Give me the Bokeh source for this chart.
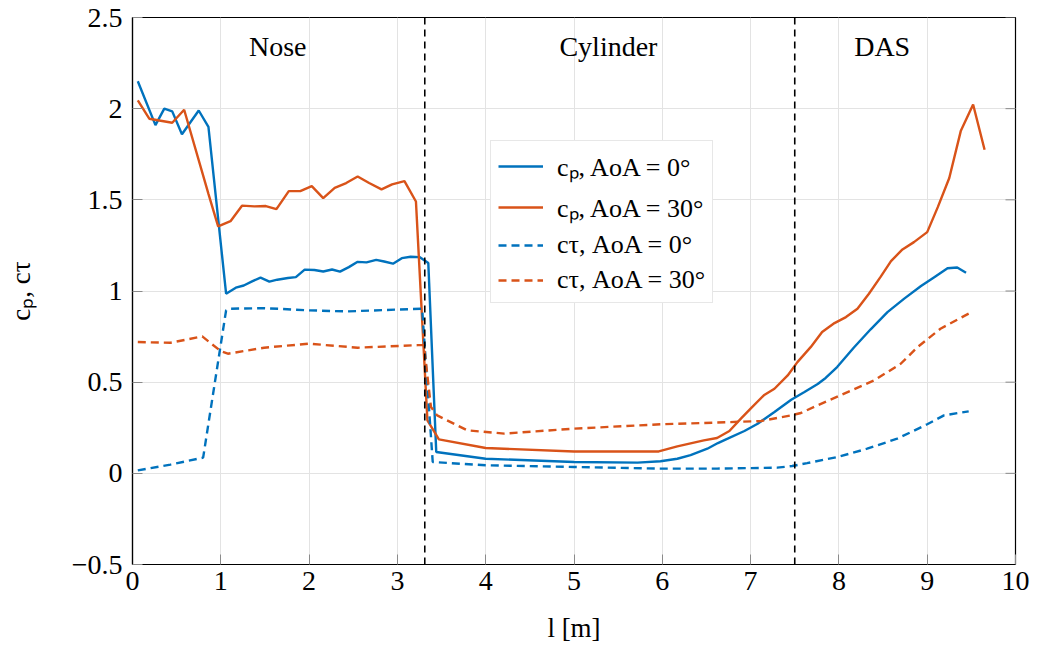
import math
from bokeh.plotting import figure
from bokeh.models import (Range1d, Legend, LegendItem, Span,
                          FixedTicker, ColumnDataSource)
from bokeh.core.properties import value
from bokeh.embed import file_html
from bokeh.resources import INLINE

# ---------------- data ----------------
cp0_x = [0.06, 0.26, 0.36, 0.45, 0.56, 0.75, 0.86, 1.06, 1.17, 1.26, 1.36, 1.45, 1.55, 1.64,
         1.76, 1.85, 1.95, 2.06, 2.16, 2.26, 2.35, 2.45, 2.55, 2.65, 2.76, 2.85, 2.95, 3.05,
         3.15, 3.25, 3.35, 3.44, 4.0, 5.0, 5.72, 5.98, 6.17, 6.32, 6.51, 6.63, 6.74, 6.93,
         7.08, 7.27, 7.46, 7.61, 7.76, 7.85, 7.98, 8.17, 8.36, 8.55, 8.74, 8.93, 9.08, 9.23,
         9.34, 9.44]
cp0_y = [2.15, 1.91, 2.00, 1.985, 1.86, 1.99, 1.90, 0.985, 1.018, 1.03, 1.054, 1.073, 1.051,
         1.062, 1.071, 1.076, 1.117, 1.115, 1.107, 1.118, 1.106, 1.131, 1.16, 1.157, 1.171,
         1.162, 1.15, 1.18, 1.188, 1.186, 1.153, 0.117, 0.08, 0.062, 0.059, 0.066, 0.08, 0.10,
         0.135, 0.166, 0.19, 0.232, 0.272, 0.336, 0.404, 0.446, 0.49, 0.523, 0.583, 0.69,
         0.79, 0.884, 0.958, 1.027, 1.076, 1.125, 1.129, 1.10]

cp30_x = [0.06, 0.19, 0.45, 0.585, 0.86, 0.97, 1.11, 1.24, 1.38, 1.51, 1.63, 1.77, 1.90, 2.03,
          2.16, 2.29, 2.42, 2.55, 2.68, 2.82, 2.94, 3.08, 3.21, 3.34, 3.47, 4.0, 5.0, 5.96,
          6.17, 6.47, 6.62, 6.76, 6.89, 7.0, 7.15, 7.27, 7.42, 7.53, 7.68, 7.81, 7.95, 8.08,
          8.21, 8.34, 8.47, 8.59, 8.72, 8.85, 9.0, 9.12, 9.25, 9.38, 9.52, 9.65]
cp30_y = [2.045, 1.945, 1.923, 1.994, 1.533, 1.354, 1.383, 1.468, 1.464, 1.466, 1.449, 1.548,
          1.548, 1.575, 1.509, 1.566, 1.592, 1.628, 1.592, 1.557, 1.585, 1.603, 1.491, 0.29,
          0.186, 0.139, 0.12, 0.12, 0.148, 0.181, 0.194, 0.232, 0.30, 0.355, 0.428, 0.464,
          0.537, 0.61, 0.692, 0.775, 0.824, 0.857, 0.903, 0.985, 1.076, 1.164, 1.228, 1.268,
          1.323, 1.46, 1.62, 1.877, 2.023, 1.775]

ct0_x = [0.06, 0.43, 0.80, 1.06, 1.11, 1.49, 2.0, 2.43, 3.28, 3.40, 4.0, 5.0, 5.98, 6.62,
         7.3, 7.47, 7.64, 7.98, 8.32, 8.66, 9.0, 9.19, 9.47]
ct0_y = [0.016, 0.048, 0.086, 0.894, 0.903, 0.906, 0.894, 0.888, 0.903, 0.062, 0.044, 0.035,
         0.026, 0.026, 0.031, 0.04, 0.056, 0.089, 0.135, 0.19, 0.269, 0.318, 0.34]

ct30_x = [0.06, 0.43, 0.79, 1.0, 1.08, 1.49, 2.0, 2.55, 3.23, 3.30, 3.38, 3.45, 3.79, 4.21,
          5.0, 5.98, 6.59, 7.12, 7.46, 7.57, 7.76, 8.06, 8.4, 8.7, 8.89, 9.15, 9.47]
ct30_y = [0.72, 0.716, 0.751, 0.67, 0.656, 0.689, 0.711, 0.689, 0.703, 0.703, 0.364, 0.318,
          0.236, 0.218, 0.245, 0.269, 0.278, 0.287, 0.318, 0.331, 0.373, 0.437, 0.51, 0.601,
          0.692, 0.793, 0.876]

section_bounds = [3.31, 7.5]
section_names = ["Nose", "Cylinder", "DAS"]
section_x = [1.645, 5.39, 8.49]
section_y = [2.34, 2.34, 2.34]

series_labels = ["c\u209a, AoA = 0\u00b0", "c\u209a, AoA = 30\u00b0",
                 "c\u03c4, AoA = 0\u00b0", "c\u03c4, AoA = 30\u00b0"]

x_min, x_max = 0, 10
y_min, y_max = -0.5, 2.5
x_ticks = [0, 1, 2, 3, 4, 5, 6, 7, 8, 9, 10]
x_tick_labels = ["0", "1", "2", "3", "4", "5", "6", "7", "8", "9", "10"]
y_ticks = [-0.5, 0, 0.5, 1, 1.5, 2, 2.5]
y_tick_labels = ["\u22120.5", "0", "0.5", "1", "1.5", "2", "2.5"]

# ---------------- style ----------------
BLUE = "#0072BD"
ORANGE = "#D95319"
FONT = "Liberation Serif"
TICK_COLOR = "#8a8a8a"

p = figure(width=1038, height=651, output_backend="svg", toolbar_location=None,
           x_range=Range1d(x_min, x_max), y_range=Range1d(y_min, y_max),
           min_border_left=132, min_border_right=23, min_border_top=17,
           min_border_bottom=87)

p.outline_line_color = "black"
p.outline_line_width = 1.2
p.background_fill_color = "white"
p.border_fill_color = "white"

for g in (p.xgrid[0], p.ygrid[0]):
    g.grid_line_color = "#e3e3e3"
    g.grid_line_width = 1
p.xgrid[0].ticker = FixedTicker(ticks=x_ticks)
p.ygrid[0].ticker = FixedTicker(ticks=y_ticks)

xa = p.xaxis[0]
xa.ticker = FixedTicker(ticks=x_ticks)
xa.major_label_overrides = {t: l for t, l in zip(x_ticks, x_tick_labels)}
ya = p.yaxis[0]
ya.ticker = FixedTicker(ticks=y_ticks)
ya.major_label_overrides = {t: l for t, l in zip(y_ticks, y_tick_labels)}

for ax in (xa, ya):
    ax.axis_line_color = "black"
    ax.axis_line_width = 1.2
    ax.major_tick_in = 10
    ax.major_tick_out = 0
    ax.major_tick_line_color = TICK_COLOR
    ax.minor_tick_line_color = None
    ax.major_label_text_font = FONT
    ax.major_label_text_font_size = "28px"
    ax.major_label_text_color = "black"
    ax.axis_label_text_font = FONT
    ax.axis_label_text_font_size = "27px"
    ax.axis_label_text_font_style = "normal"
    ax.axis_label_text_color = "black"

xa.major_label_standoff = 7
xa.axis_label = "l [m]"
xa.axis_label_standoff = 20
ya.major_label_standoff = 10
ya.axis_label = "c\u209a, c\u03c4"
ya.axis_label_standoff = 33

# inward ticks on the right edge of the frame
p.ray(x=[x_max] * len(y_ticks), y=y_ticks, length=10, length_units="screen",
      angle=math.pi, line_color=TICK_COLOR, line_width=1)

# section boundaries
for b in section_bounds:
    p.add_layout(Span(location=b, dimension="height", line_color="black",
                      line_width=1.6, line_dash="7 5"))

# series
LW = 2.4
r1 = p.line(cp0_x, cp0_y, line_color=BLUE, line_width=LW)
r2 = p.line(cp30_x, cp30_y, line_color=ORANGE, line_width=LW)
r3 = p.line(ct0_x, ct0_y, line_color=BLUE, line_width=LW, line_dash="8 5")
r4 = p.line(ct30_x, ct30_y, line_color=ORANGE, line_width=LW, line_dash="8 5")

# section labels
src = ColumnDataSource(dict(x=section_x, y=section_y, t=section_names))
p.text(x="x", y="y", text="t", source=src, text_font=value(FONT),
       text_font_size="28px", text_align="center", text_baseline="middle",
       text_color="black")

legend = Legend(items=[LegendItem(label=series_labels[0], renderers=[r1]),
                       LegendItem(label=series_labels[1], renderers=[r2]),
                       LegendItem(label=series_labels[2], renderers=[r3]),
                       LegendItem(label=series_labels[3], renderers=[r4])],
                location=(358, 261))
legend.label_text_font = FONT
legend.label_text_font_size = "26px"
legend.label_text_color = "black"
legend.glyph_width = 45
legend.glyph_height = 26
legend.label_height = 26
legend.label_standoff = 14
legend.spacing = 5
legend.padding = 7
legend.margin = 0
legend.border_line_color = "#d0d0d0"
legend.border_line_width = 1
legend.background_fill_color = "white"
legend.background_fill_alpha = 1
p.add_layout(legend, "center")

open("out.html", "w").write(file_html(p, INLINE))
